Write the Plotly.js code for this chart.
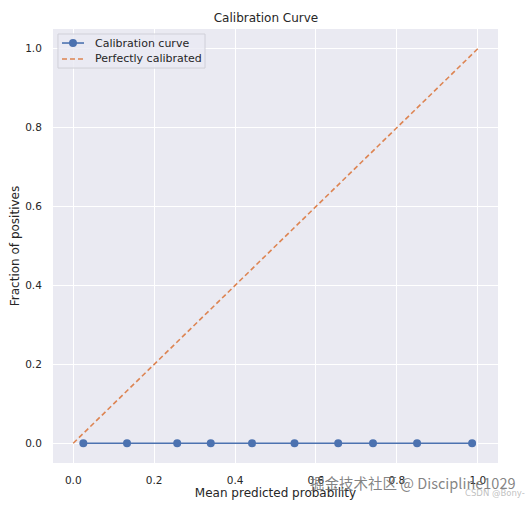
<!DOCTYPE html>
<html><head><meta charset="utf-8">
<script src="https://cdn.plot.ly/plotly-3.0.1.min.js"></script>
<style>html,body{margin:0;padding:0;background:#fff}</style>
</head><body>
<div id="chart" style="width:532px;height:505px"></div>
<script>
const meanPred = [0.025, 0.133, 0.257, 0.340, 0.442, 0.547, 0.655, 0.741, 0.850, 0.986];
const fracPos = [0, 0, 0, 0, 0, 0, 0, 0, 0, 0];
const perfectX = [0, 1];
const perfectY = [0, 1];
const xTicks = [0.0, 0.2, 0.4, 0.6, 0.8, 1.0];
const yTicks = [0.0, 0.2, 0.4, 0.6, 0.8, 1.0];
const seriesNames = ['Calibration curve', 'Perfectly calibrated'];
const blue = '#4C72B0', orange = '#DD8452';
const font = 'DejaVu Sans, sans-serif';
const traces = [
  {x: meanPred, y: fracPos, type: 'scatter', mode: 'lines+markers', name: seriesNames[0],
   line: {color: blue, width: 1.6}, marker: {color: blue, size: 8}},
  {x: perfectX, y: perfectY, type: 'scatter', mode: 'lines', name: seriesNames[1],
   line: {color: orange, width: 1.6, dash: '5px,3px'}}
];
// manual compact legend (matplotlib style)
const legShapes = [
  {type: 'rect', xref: 'paper', yref: 'paper', x0: 0.0112, x1: 0.3416, y0: 0.910, y1: 0.9885,
   fillcolor: 'rgba(234,234,242,0.8)', line: {color: '#d0d0d8', width: 1}, layer: 'above'},
  {type: 'line', xref: 'paper', yref: 'paper', x0: 0.0202, x1: 0.0697, y0: 0.9677, y1: 0.9677,
   line: {color: blue, width: 1.6}, layer: 'above'},
  {type: 'circle', xref: 'paper', yref: 'paper', xsizemode: 'pixel', ysizemode: 'pixel',
   xanchor: 0.0449, yanchor: 0.9677, x0: -4, x1: 4, y0: -4, y1: 4,
   fillcolor: blue, line: {color: blue, width: 0}, layer: 'above'},
  {type: 'line', xref: 'paper', yref: 'paper', x0: 0.0202, x1: 0.0697, y0: 0.931, y1: 0.931,
   line: {color: orange, width: 1.6, dash: '5px,3px'}, layer: 'above'}
];
const legAnn = [
  {text: seriesNames[0], xref: 'paper', yref: 'paper', x: 0.0899, y: 0.9677, xanchor: 'left', yanchor: 'middle',
   showarrow: false, font: {size: 11, color: '#262626', family: font}},
  {text: seriesNames[1], xref: 'paper', yref: 'paper', x: 0.0899, y: 0.931, xanchor: 'left', yanchor: 'middle',
   showarrow: false, font: {size: 11, color: '#262626', family: font}}
];
const layout = {
  width: 532, height: 505,
  margin: {l: 53, r: 34, t: 29, b: 42},
  paper_bgcolor: '#ffffff', plot_bgcolor: '#EAEAF2',
  font: {family: font, color: '#262626', size: 10},
  title: {text: 'Calibration Curve', font: {size: 12, color: '#262626'}, x: 0.5, xanchor: 'center', y: 0.964, yanchor: 'middle'},
  showlegend: false,
  shapes: legShapes,
  xaxis: {range: [-0.05, 1.05], tickvals: xTicks, ticktext: xTicks.map(v => v.toFixed(1)),
          showgrid: true, gridcolor: '#ffffff', gridwidth: 1, zeroline: false, showline: false,
          ticks: 'outside', ticklen: 7, tickcolor: 'rgba(0,0,0,0)', tickfont: {size: 10.5, color: '#262626'},
          title: {text: 'Mean predicted probability', font: {size: 12, color: '#262626'}, standoff: 3}},
  yaxis: {range: [-0.05, 1.05], tickvals: yTicks, ticktext: yTicks.map(v => v.toFixed(1)),
          showgrid: true, gridcolor: '#ffffff', gridwidth: 1, zeroline: false, showline: false,
          ticks: 'outside', ticklen: 8, tickcolor: 'rgba(0,0,0,0)', tickfont: {size: 10.5, color: '#262626'},
          title: {text: 'Fraction of positives', font: {size: 12, color: '#262626'}, standoff: 2}},
  annotations: legAnn.concat([
    {text: '掘金技术社区 @ Discipline1029', xref: 'paper', yref: 'paper', x: 1.045, y: -0.046,
     xanchor: 'right', yanchor: 'middle', showarrow: false,
     font: {size: 14.5, color: 'rgba(110,110,110,0.85)', family: 'Noto Sans CJK SC, DejaVu Sans'}},
    {text: 'CSDN @Bony-', xref: 'paper', yref: 'paper', x: 1.065, y: -0.07,
     xanchor: 'right', yanchor: 'middle', showarrow: false,
     font: {size: 8.5, color: 'rgba(185,185,185,0.9)', family: font}}
  ])
};
Plotly.newPlot('chart', traces, layout, {displayModeBar: false, staticPlot: true});
</script>
</body></html>
